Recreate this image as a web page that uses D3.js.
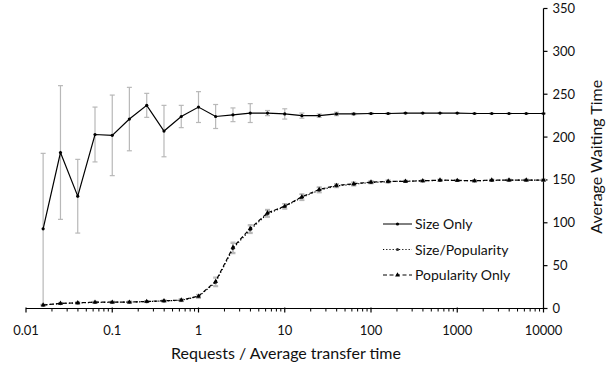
<!DOCTYPE html>
<html>
<head>
<meta charset="UTF-8">
<script src="https://d3js.org/d3.v7.min.js"></script>
<style>
  body { margin: 0; background: #fff; }
  svg { display: block; font-family: 'Lato', 'Open Sans', sans-serif; }
  .tick-label { font-size: 13px; fill: #111; }
  .axis-title { font-size: 16px; fill: #111; }
  .legend-label { font-size: 14px; fill: #111; }
</style>
</head>
<body>
<div id="chart"></div>
<script>
// x positions (requests / avg transfer time)
const xVals = [0.0158, 0.0251, 0.0398, 0.0631, 0.1, 0.158, 0.251, 0.398, 0.631, 1,
               1.58, 2.51, 3.98, 6.31, 10, 15.8, 25.1, 39.8, 63.1, 100,
               158, 251, 398, 631, 1000, 1585, 2512, 3981, 6310, 10000];

const sizeOnly = [93, 182, 131, 203, 202, 221, 237, 207, 224, 235,
                  224, 226, 228, 228, 227, 225, 225, 227, 227, 227.5,
                  227.5, 228, 228, 228, 228, 227.5, 227.5, 227.5, 227.5, 227.5];
const sizeOnlyErr = [88, 78, 43, 32, 47, 37, 14, 30, 13, 18,
                     14, 8, 11, 3, 6, 3, 2, 2, 1, 1,
                     1, 0.5, 0.5, 0.5, 0.5, 0.5, 0.5, 0.5, 0.5, 0.5];

const sizePop = [4, 5.8, 6.5, 7.2, 7.3, 7.5, 8, 8.8, 9.6, 14,
                 30.5, 70, 92, 110.5, 119, 129.5, 138, 143, 145, 147,
                 148, 148.5, 149, 149.5, 149.5, 149, 149.5, 149.8, 149.8, 149.8];
const sizePopErr = [0.5, 1, 1, 1, 1, 1, 1, 1, 1.5, 2,
                    5, 6, 4.5, 4, 3, 3.5, 3, 2, 2, 1.5,
                    1.5, 1, 1, 1, 1, 1, 1, 1, 1, 1];

const popOnly = [4, 6, 6.6, 7.4, 7.4, 7.4, 8.2, 9, 9.8, 14.4,
                 31.6, 71.4, 93.3, 111.6, 119.4, 130.3, 138.9, 143.6, 145.5, 147.5,
                 148.3, 148.3, 149, 149.8, 149.4, 149, 149.8, 149.8, 149.8, 149.8];
const popOnlyErr = [0.5, 1, 1, 1, 1, 1, 1, 1, 1.5, 2,
                    5, 6, 4.5, 4, 3, 3.5, 3, 2, 2, 1.5,
                    1.5, 1, 1, 1, 1, 1, 1, 1, 1, 1];

const xTicks = [0.01, 0.1, 1, 10, 100, 1000, 10000];
const xTickLabels = ["0.01", "0.1", "1", "10", "100", "1000", "10000"];
const yTicks = [0, 50, 100, 150, 200, 250, 300, 350];

const legendNames = ["Size Only", "Size/Popularity", "Popularity Only"];

const W = 607, H = 366;
const svg = d3.select("#chart").append("svg").attr("width", W).attr("height", H);

const x = d3.scaleLog().domain([0.01, 10000]).range([26, 543.5]);
const y = d3.scaleLinear().domain([0, 350]).range([308.5, 8.5]);

// x axis
svg.append("line").attr("x1", x(0.01)).attr("x2", x(10000))
  .attr("y1", y(0)).attr("y2", y(0)).attr("stroke", "#000").attr("stroke-width", 1.2);

// minor + major ticks
const minor = [];
for (let e = -2; e < 4; e++) for (let m = 2; m <= 9; m++) minor.push(m * Math.pow(10, e));
svg.selectAll(".minor").data(minor).enter().append("line")
  .attr("x1", d => x(d)).attr("x2", d => x(d))
  .attr("y1", y(0)).attr("y2", y(0) + 3)
  .attr("stroke", "#000").attr("stroke-width", 1);
svg.selectAll(".major").data(xTicks).enter().append("line")
  .attr("x1", d => x(d)).attr("x2", d => x(d))
  .attr("y1", y(0) - 1).attr("y2", y(0) + 4)
  .attr("stroke", "#000").attr("stroke-width", 1.2);
svg.selectAll(".xlab").data(xTicks).enter().append("text")
  .attr("class", "tick-label")
  .attr("x", d => x(d)).attr("y", 335)
  .attr("text-anchor", "middle")
  .text((d, i) => xTickLabels[i]);

// y axis on right
svg.append("line").attr("x1", x(10000)).attr("x2", x(10000))
  .attr("y1", y(350)).attr("y2", y(0)).attr("stroke", "#000").attr("stroke-width", 1.2);
svg.selectAll(".ytick").data(yTicks).enter().append("line")
  .attr("x1", x(10000)).attr("x2", x(10000) + 4)
  .attr("y1", d => y(d)).attr("y2", d => y(d))
  .attr("stroke", "#000").attr("stroke-width", 1.2);
svg.selectAll(".ylab").data(yTicks).enter().append("text")
  .attr("class", "tick-label")
  .attr("x", x(10000) + 9).attr("y", d => y(d) + 4.5)
  .text(d => d);

// axis titles
svg.append("text").attr("class", "axis-title")
  .attr("x", 286).attr("y", 359).attr("text-anchor", "middle")
  .text("Requests / Average transfer time");
svg.append("text").attr("class", "axis-title")
  .attr("transform", `translate(602,${y(177)}) rotate(-90)`)
  .attr("text-anchor", "middle")
  .text("Average Waiting Time");

// error bars
function errBars(vals, errs) {
  const g = svg.append("g").attr("stroke", "#b8b8b8").attr("stroke-width", 1.2).attr("fill", "none");
  vals.forEach((v, i) => {
    const e = errs[i];
    const cx = x(xVals[i]);
    g.append("line").attr("x1", cx).attr("x2", cx).attr("y1", y(v + e)).attr("y2", y(Math.max(0, v - e)));
    [v + e, Math.max(0, v - e)].forEach(t => {
      g.append("line").attr("x1", cx - 2.5).attr("x2", cx + 2.5).attr("y1", y(t)).attr("y2", y(t));
    });
  });
}
errBars(sizeOnly, sizeOnlyErr);
errBars(sizePop, sizePopErr);
errBars(popOnly, popOnlyErr);

const line = d3.line().x((d, i) => x(xVals[i])).y(d => y(d));

const tri = d3.symbol().type(d3.symbolTriangle).size(10);

function drawSeries(vals, dash, marker) {
  svg.append("path").datum(vals).attr("d", line)
    .attr("fill", "none").attr("stroke", "#000").attr("stroke-width", 1.2)
    .attr("stroke-dasharray", dash);
  vals.forEach((v, i) => drawMarker(x(xVals[i]), y(v), marker));
}
function drawMarker(cx, cy, marker) {
  if (marker === "tri") {
    svg.append("path").attr("d", tri).attr("transform", `translate(${cx},${cy})`).attr("fill", "#000");
  } else if (marker === "dotgray") {
    svg.append("circle").attr("cx", cx).attr("cy", cy).attr("r", 1.6).attr("fill", "#333");
  } else {
    svg.append("circle").attr("cx", cx).attr("cy", cy).attr("r", 1.6).attr("fill", "#000");
  }
}

drawSeries(sizePop, "1.2,2", "dotgray");
drawSeries(popOnly, "4,2.5", "tri");
drawSeries(sizeOnly, null, "dot");

// legend
const legendY = [224, 249.5, 275];
const legendDash = [null, "1.2,2", "4,2.5"];
const legendMarker = ["dot", "dotgray", "tri"];
legendNames.forEach((name, i) => {
  svg.append("line").attr("x1", 383).attr("x2", 412).attr("y1", legendY[i]).attr("y2", legendY[i])
    .attr("stroke", "#000").attr("stroke-width", 1).attr("stroke-dasharray", legendDash[i]);
  drawMarker(397.5, legendY[i], legendMarker[i]);
  svg.append("text").attr("class", "legend-label")
    .attr("x", 415).attr("y", legendY[i] + 5)
    .text(name);
});
</script>
</body>
</html>
